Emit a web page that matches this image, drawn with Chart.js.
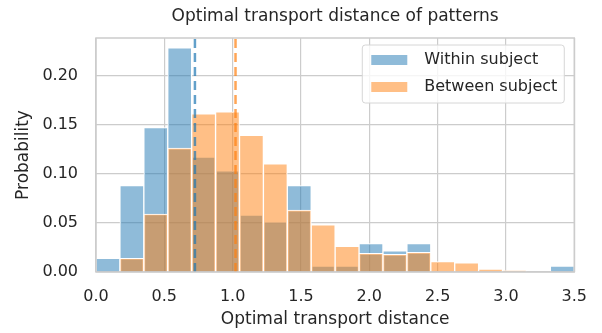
<!DOCTYPE html>
<html lang="en">
<head>
<meta charset="UTF-8">
<title>Optimal transport distance of patterns</title>
<script src="https://cdn.jsdelivr.net/npm/chart.js"></script>
<style>
  html, body { margin: 0; padding: 0; background: #fff; }
  #wrap { width: 602px; height: 333px; }
</style>
</head>
<body>
<div id="wrap"><canvas id="hist" width="602" height="333"></canvas></div>
<script>
// histogram bins (width 0.175, 0 .. 3.5)
const binCenters = [0.0875, 0.2625, 0.4375, 0.6125, 0.7875, 0.9625, 1.1375, 1.3125, 1.4875, 1.6625,
                    1.8375, 2.0125, 2.1875, 2.3625, 2.5375, 2.7125, 2.8875, 3.0625, 3.2375, 3.4125];
const withinProb  = [0.014, 0.088, 0.147, 0.228, 0.117, 0.103, 0.058, 0.051, 0.088, 0.006,
                     0.006, 0.029, 0.0215, 0.029, 0, 0, 0, 0, 0, 0.006];
const betweenProb = [0, 0.014, 0.059, 0.126, 0.161, 0.163, 0.139, 0.110, 0.063, 0.048,
                     0.026, 0.019, 0.018, 0.020, 0.0106, 0.0092, 0.003, 0.0015, 0, 0];
const withinMean = 0.724;
const betweenMean = 1.021;
const seriesNames = ['Within subject', 'Between subject'];
const chartTitle = 'Optimal transport distance of patterns';
const xTicks = [0, 0.5, 1, 1.5, 2, 2.5, 3, 3.5];
const yTicks = [0, 0.05, 0.10, 0.15, 0.20];
const yMax = 0.238;

const blueFill = 'rgba(31,119,180,0.5)';
const orangeFill = 'rgba(255,127,14,0.5)';
const ink = '#262626';
const gridCol = '#cccccc';
const font = 'DejaVu Sans';

const pts = (ys) => ys.map((y, i) => ({ x: binCenters[i], y: y }));

// frame, title (centred on the plot) and legend inside the plot
const frameLegend = {
    id: 'frameLegend',
    afterDraw(chart) {
        const ctx = chart.ctx;
        const a = chart.chartArea;
        ctx.save();
        ctx.strokeStyle = gridCol;
        ctx.lineWidth = 1.5;
        ctx.strokeRect(a.left, a.top, a.right - a.left, a.bottom - a.top);

        ctx.fillStyle = ink;
        ctx.font = '17px "' + font + '"';
        ctx.textAlign = 'center';
        ctx.textBaseline = 'middle';
        ctx.fillText(chartTitle, (a.left + a.right) / 2, a.top - 21);

        const bx = a.right - 212, by = a.top + 7, bw = 202, bh = 58;
        ctx.fillStyle = 'rgba(255,255,255,0.8)';
        ctx.strokeStyle = '#d6d6d6';
        ctx.lineWidth = 1;
        ctx.beginPath();
        ctx.roundRect(bx, by, bw, bh, 3);
        ctx.fill();
        ctx.stroke();

        const fills = [blueFill, orangeFill];
        ctx.font = '16px "' + font + '"';
        ctx.textAlign = 'left';
        seriesNames.forEach((name, i) => {
            const cy = by + 15 + i * 27;
            ctx.fillStyle = fills[i];
            ctx.fillRect(bx + 9, cy - 5, 36, 10);
            ctx.fillStyle = ink;
            ctx.fillText(name, bx + 62, cy);
        });
        ctx.restore();
    }
};

new Chart(document.getElementById('hist'), {
    type: 'bar',
    data: {
        datasets: [
            {
                label: seriesNames[1],
                data: pts(betweenProb),
                backgroundColor: orangeFill,
                borderColor: '#ffffff',
                borderWidth: 1,
                grouped: false,
                barPercentage: 1,
                categoryPercentage: 1,
                order: 1
            },
            {
                label: seriesNames[0],
                data: pts(withinProb),
                backgroundColor: blueFill,
                borderColor: '#ffffff',
                borderWidth: 1,
                grouped: false,
                barPercentage: 1,
                categoryPercentage: 1,
                order: 2
            },
            {
                type: 'line',
                label: 'within mean',
                data: [{ x: withinMean, y: 0 }, { x: withinMean, y: yMax }],
                borderColor: 'rgba(31,119,180,0.7)',
                borderWidth: 2.5,
                borderDash: [9, 5],
                pointRadius: 0,
                order: 0
            },
            {
                type: 'line',
                label: 'between mean',
                data: [{ x: betweenMean, y: 0 }, { x: betweenMean, y: yMax }],
                borderColor: 'rgba(255,127,14,0.7)',
                borderWidth: 2.5,
                borderDash: [9, 5],
                pointRadius: 0,
                order: 0
            }
        ]
    },
    options: {
        responsive: false,
        animation: false,
        layout: { padding: { left: 0, right: 25, top: 38, bottom: 0 } },
        plugins: {
            legend: { display: false },
            tooltip: { enabled: false },
            title: { display: false }
        },
        scales: {
            x: {
                type: 'linear',
                min: 0,
                max: 3.5,
                offset: false,
                afterBuildTicks: (s) => { s.ticks = xTicks.map(v => ({ value: v })); },
                afterFit: (s) => { s.height = 61; },
                ticks: {
                    color: ink,
                    font: { family: font, size: 16 },
                    padding: 15,
                    callback: (v) => Number(v).toFixed(1)
                },
                grid: { color: gridCol, lineWidth: 1.2, drawTicks: false, offset: false },
                border: { display: false },
                title: {
                    display: true,
                    text: 'Optimal transport distance',
                    color: ink,
                    font: { family: font, size: 17 },
                    padding: { top: 0, bottom: 3 }
                }
            },
            y: {
                min: 0,
                max: yMax,
                afterBuildTicks: (s) => { s.ticks = yTicks.map(v => ({ value: v })); },
                afterFit: (s) => { s.width = 96; },
                ticks: {
                    color: ink,
                    font: { family: font, size: 16 },
                    padding: 18,
                    callback: (v) => Number(v).toFixed(2)
                },
                grid: { color: gridCol, lineWidth: 1.2, drawTicks: false },
                border: { display: false },
                title: {
                    display: true,
                    text: 'Probability',
                    color: ink,
                    font: { family: font, size: 17 },
                    padding: { top: 13, bottom: 0 }
                }
            }
        }
    },
    plugins: [frameLegend]
});
</script>
</body>
</html>
